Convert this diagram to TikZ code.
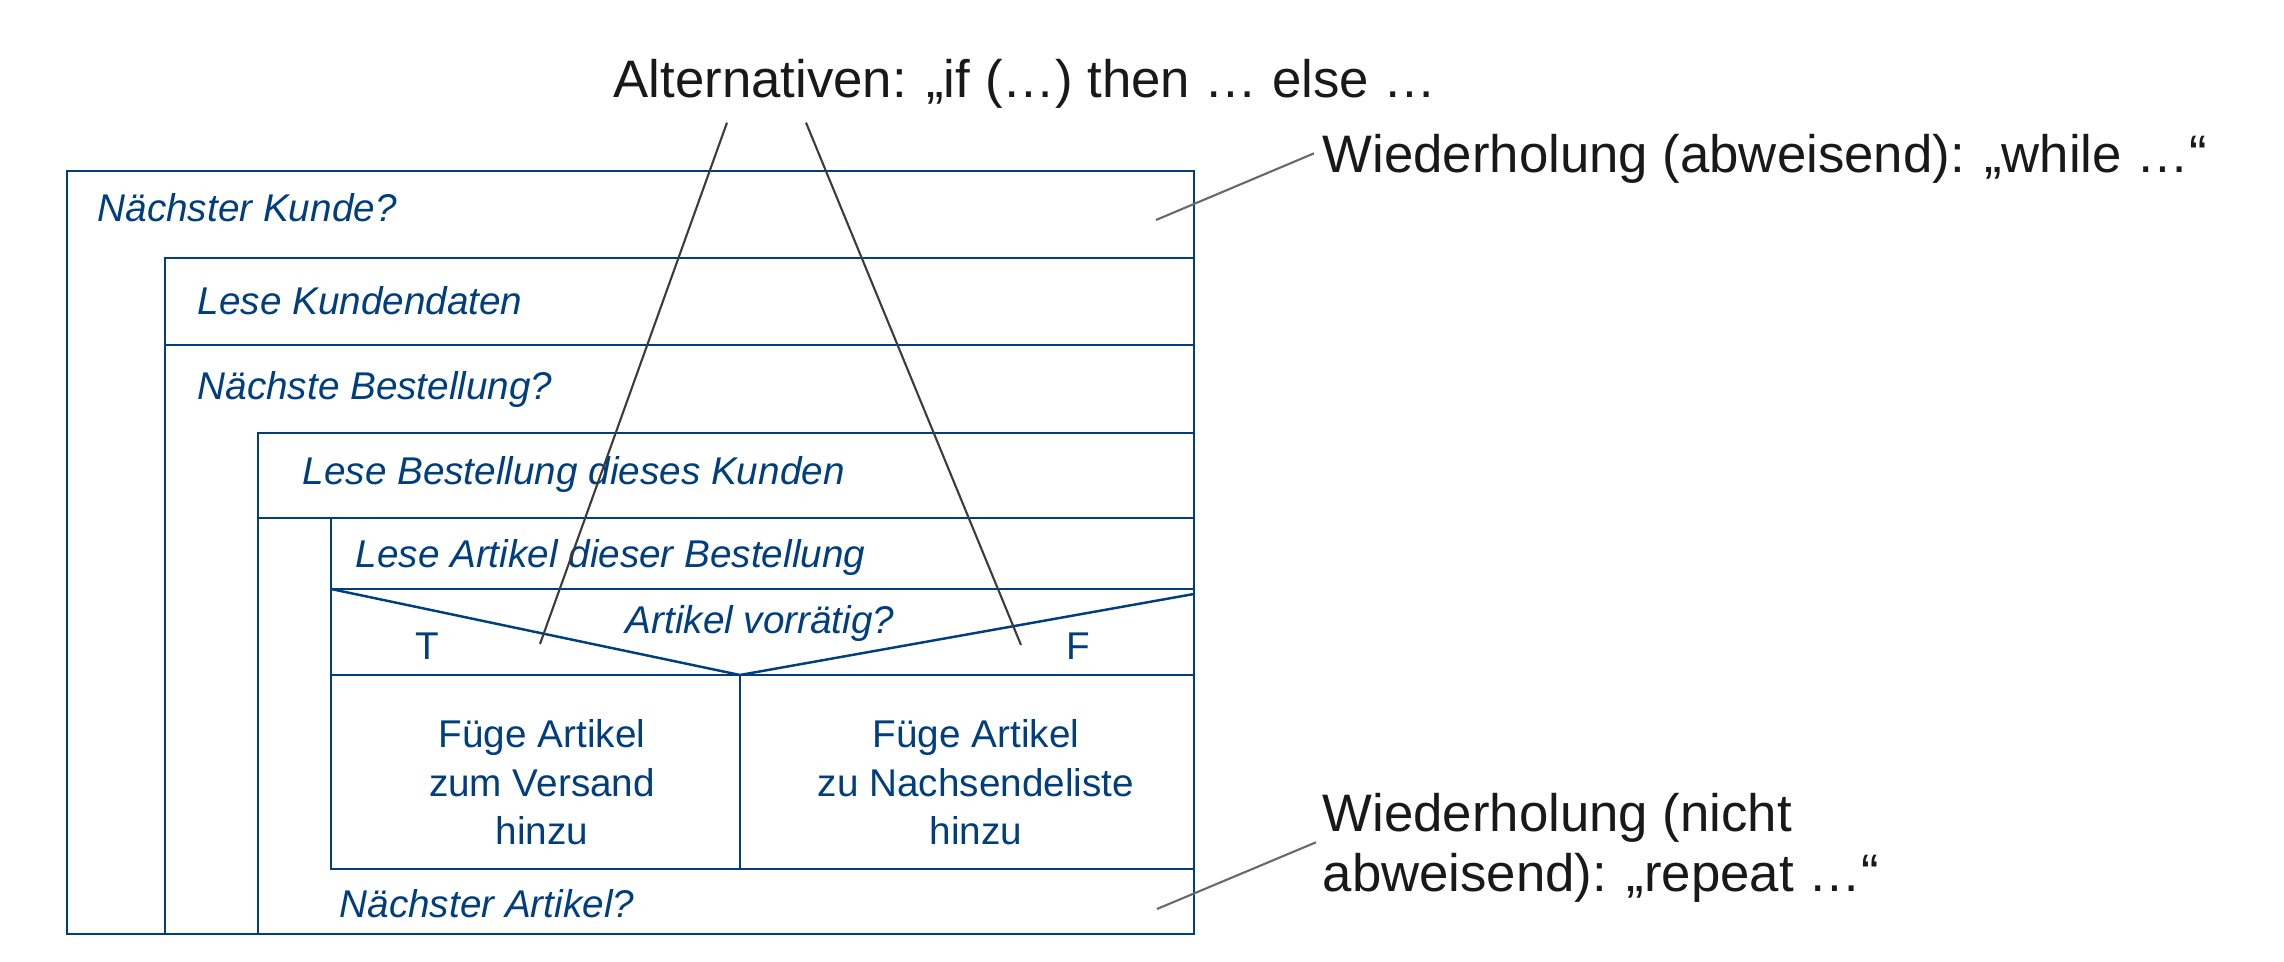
\documentclass[tikz,border=0pt]{standalone}
\usepackage{fontspec}
\setmainfont{Liberation Sans}
\usetikzlibrary{calc}
\definecolor{nsblue}{RGB}{0,62,126}
\definecolor{darkpointer}{RGB}{60,60,60}
\definecolor{lightpointer}{RGB}{105,105,105}

\begin{document}
\begin{tikzpicture}[x=0.01cm, y=-0.01cm,
    box/.style={draw=nsblue, line width=0.7pt},
    label/.style={text=nsblue, font=\fontsize{11}{13.9}\selectfont\itshape, inner sep=0pt, anchor=base west},
    action/.style={text=nsblue, font=\fontsize{11}{13.9}\selectfont, inner sep=0pt, align=center, anchor=base},
    note/.style={text=black!90, font=\fontsize{15}{17.1}\selectfont, inner sep=0pt, anchor=base west, align=left},
    pointer/.style={draw=darkpointer, line width=0.6pt}]
    \useasboundingbox (0,0) rectangle (2284,962);

    % loops and sequence
    \draw[box] (67,171) rectangle (1194,934);
    \draw[box] (165,258) rectangle (1194,934);
    \draw[box] (165,345) -- (1194,345);
    \draw[box] (258,433) rectangle (1194,934);
    \draw[box] (258,518) -- (1194,518);
    \draw[box] (331,518) rectangle (1194,869);
    \draw[box] (331,589) -- (1194,589);
    % if block
    \draw[box] (331,589) -- (740,675) -- (1194,594);
    \draw[box] (331,675) -- (1194,675);
    \draw[box] (740,675) -- (740,869);

    \node[label] (kunde) at (97,222) {Nächster Kunde?};
    \node[label] (kdaten) at (197,315) {Lese Kundendaten};
    \node[label] (bestellung) at (197,400) {Nächste Bestellung?};
    \node[label] (lbest) at (302,485) {Lese Bestellung dieses Kunden};
    \node[label] (lart) at (355,568) {Lese Artikel dieser Bestellung};
    \node[label, anchor=base] (cond) at (760,634) {Artikel vorrätig?};
    \node[action] (t) at (427,660) {T};
    \node[action] (f) at (1078,660) {F};
    \node[action] (versand) at (542,845) {Füge Artikel\\zum Versand\\hinzu};
    \node[action] (nachsende) at (976,845) {Füge Artikel\\zu Nachsendeliste\\hinzu};
    \node[label] (artikel) at (339,918) {Nächster Artikel?};

    \node[note] (alt) at (613,98) {Alternativen: „if (…) then … else …};
    \node[note] (while) at (1322,173) {Wiederholung (abweisend): „while …“};
    \node[note] (repeat) at (1322,892) {Wiederholung (nicht\\abweisend): „repeat …“};

    \coordinate (tipT) at (540,644);
    \coordinate (tipF) at (1021,645);
    \coordinate (tipWhile) at (1156,220);
    \coordinate (tipRepeat) at (1157,909);
    \draw[pointer] ($(alt.south west)+(114,13)$) -- (tipT);
    \draw[pointer] ($(alt.south west)+(193,13)$) -- (tipF);
    \draw[pointer, draw=lightpointer] ($(while.west)+(-8,-6)$) -- (tipWhile);
    \draw[pointer, draw=lightpointer] ($(repeat.west)+(-6,-6)$) -- (tipRepeat);
\end{tikzpicture}
\end{document}
